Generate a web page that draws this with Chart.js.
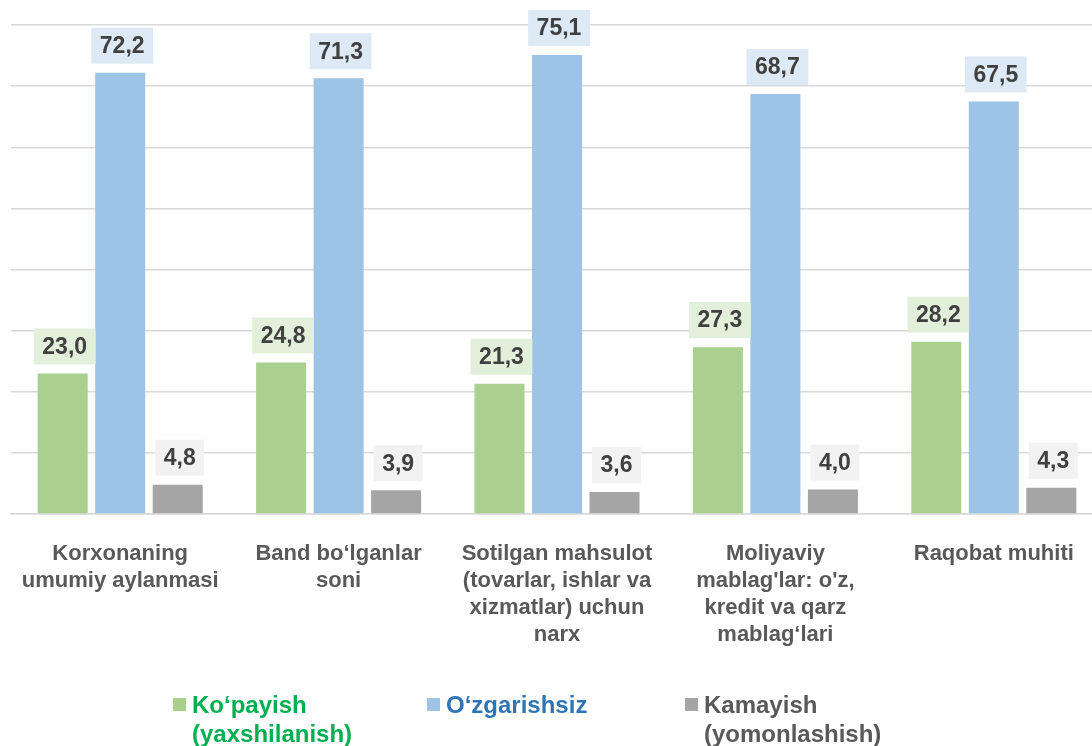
<!DOCTYPE html>
<html lang="uz">
<head>
<meta charset="UTF-8">
<title>Korxonalar holati</title>
<script src="https://cdn.jsdelivr.net/npm/chart.js"></script>
<style>
    html, body { margin: 0; padding: 0; background: #fff; overflow: hidden; }
    /* plot area runs a little past the right edge of the window, like the original */
    #wrap { width: 1103px; height: 746px; position: relative; }
</style>
</head>
<body>
<div id="wrap"><canvas id="myChart"></canvas></div>
<script>
    // categories (already split into lines the way the picture wraps them)
    const categories = [
        ['Korxonaning', 'umumiy aylanmasi'],
        ['Band bo‘lganlar', 'soni'],
        ['Sotilgan mahsulot', '(tovarlar, ishlar va', 'xizmatlar) uchun', 'narx'],
        ['Moliyaviy', "mablag'lar: o'z,", 'kredit va qarz', 'mablag‘lari'],
        ['Raqobat muhiti']
    ];
    const seriesNames = [
        ['Ko‘payish', '(yaxshilanish)'],
        ['O‘zgarishsiz'],
        ['Kamayish', '(yomonlashish)']
    ];
    const kopayish = [23.0, 24.8, 21.3, 27.3, 28.2];
    const ozgarishsiz = [72.2, 71.3, 75.1, 68.7, 67.5];
    const kamayish = [4.8, 3.9, 3.6, 4.0, 4.3];

    const barColors = ['#a9d08e', '#9dc3e6', '#a5a5a5'];
    const boxColors = ['#e2efda', '#dde9f5', '#f2f2f2'];
    const legendText = ['#00b050', '#2e75b6', '#595959'];
    const FONT = '"Liberation Sans", Arial, sans-serif';

    // value labels in little shaded boxes above each bar
    const valueBoxes = {
        id: 'valueBoxes',
        afterDatasetsDraw(chart) {
            const ctx = chart.ctx;
            ctx.save();
            ctx.font = 'bold 23px ' + FONT;
            ctx.textAlign = 'center';
            ctx.textBaseline = 'middle';
            chart.data.datasets.forEach((ds, i) => {
                const meta = chart.getDatasetMeta(i);
                meta.data.forEach((bar, j) => {
                    const txt = ds.data[j].toFixed(1).replace('.', ',');
                    const w = ctx.measureText(txt).width + 17;
                    const h = 36;
                    const bottom = bar.y - 9;
                    ctx.fillStyle = boxColors[i];
                    ctx.fillRect(bar.x - w / 2 + 2, bottom - h, w, h);
                    ctx.fillStyle = '#404040';
                    ctx.fillText(txt, bar.x + 2, bottom - h / 2 + 1);
                });
            });
            ctx.restore();
        }
    };

    // legend at the bottom, multi-line and coloured per item
    const legendPos = [173, 427, 685];
    const bottomLegend = {
        id: 'bottomLegend',
        afterDraw(chart) {
            const ctx = chart.ctx;
            ctx.save();
            ctx.font = 'bold 24px ' + FONT;
            ctx.textAlign = 'left';
            ctx.textBaseline = 'middle';
            seriesNames.forEach((lines, i) => {
                const x = legendPos[i];
                const y = 705;
                ctx.fillStyle = barColors[i];
                ctx.fillRect(x, y - 7, 13, 13);
                ctx.fillStyle = legendText[i];
                lines.forEach((l, k) => ctx.fillText(l, x + 19, y + 1 + k * 29));
            });
            ctx.restore();
        }
    };

    new Chart(document.getElementById('myChart'), {
        type: 'bar',
        data: {
            labels: categories,
            datasets: [
                { label: seriesNames[0].join(' '), data: kopayish, backgroundColor: barColors[0] },
                { label: seriesNames[1].join(' '), data: ozgarishsiz, backgroundColor: barColors[1] },
                { label: seriesNames[2].join(' '), data: kamayish, backgroundColor: barColors[2] }
            ]
        },
        options: {
            responsive: true,
            maintainAspectRatio: false,
            animation: false,
            datasets: { bar: { categoryPercentage: 0.79, barPercentage: 0.87 } },
            layout: { padding: { left: 11, right: 0, top: 25, bottom: 0 } },
            plugins: {
                legend: { display: false },
                tooltip: { enabled: false }
            },
            scales: {
                x: {
                    grid: { display: false, drawTicks: false },
                    border: { color: '#d9d9d9', width: 1.5 },
                    ticks: {
                        color: '#595959',
                        padding: 27,
                        maxRotation: 0,
                        autoSkip: false,
                        font: { family: FONT, size: 22, weight: 'bold', lineHeight: 1.22 }
                    },
                    afterFit(scale) {
                        scale.height = 232;
                        scale.paddingLeft = 0;
                        scale.paddingRight = 0;
                    }
                },
                y: {
                    min: 0,
                    max: 80,
                    ticks: { display: false, stepSize: 10 },
                    grid: { color: '#d9d9d9', lineWidth: 1.5, drawTicks: false },
                    border: { display: false },
                    afterFit(scale) { scale.width = 0; }
                }
            }
        },
        plugins: [valueBoxes, bottomLegend]
    });
</script>
</body>
</html>
